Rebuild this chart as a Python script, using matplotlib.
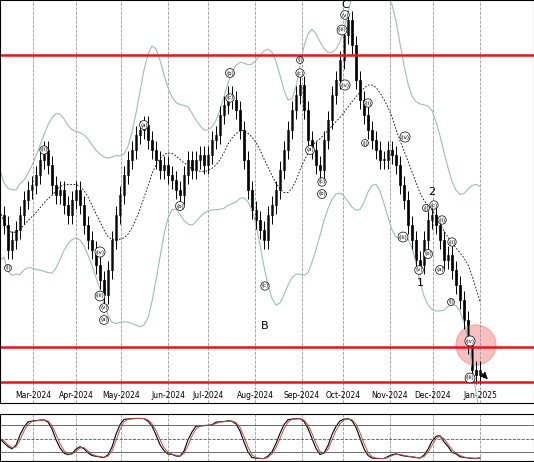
import matplotlib.pyplot as plt
from matplotlib.patches import Circle
import numpy as np
import pandas as pd

# closes (pixel-height units), one value every ~4 px
closes_y = [215, 225, 250, 240, 230, 215, 200, 190, 185, 175, 160, 150, 165, 185, 195, 190, 205, 215, 200, 190,
            205, 225, 240, 250, 265, 280, 295, 270, 240, 215, 195, 175, 160, 150, 135, 130, 125, 140, 150, 160,
            170, 165, 175, 180, 190, 195, 175, 160, 170, 160, 155, 165, 155, 140, 135, 115, 105, 95, 100, 110,
            130, 160, 190, 210, 220, 230, 240, 215, 205, 190, 170, 150, 130, 110, 95, 85, 110, 140, 150, 165,
            170, 140, 120, 95, 80, 60, 35, 20, 45, 80, 100, 115, 130, 140, 150, 160, 160, 150, 155, 165,
            185, 200, 225, 240, 260, 265, 240, 220, 215, 225, 240, 260, 255, 270, 285, 300, 320, 345, 370, 375, 370]
closes = np.array([400 - v for v in closes_y], dtype=float)
xs = np.arange(len(closes)) * 4.0

month_pos = [33, 76, 121, 168, 208, 255, 302, 343, 390, 433, 480]
month_labels = ['Mar-2024', 'Apr-2024', 'May-2024', 'Jun-2024', 'Jul-2024', 'Aug-2024',
                'Sep-2024', 'Oct-2024', 'Nov-2024', 'Dec-2024', 'Jan-2025']

red_levels_y = [55, 347, 382]

waves = [(8, 268, '(i)'), (44, 150, '(ii)'), (100, 252, '(iv)'), (100, 296, '(iii)'), (104, 308, '(v)'),
         (104, 320, '(a)'), (144, 125, '(a)'), (180, 206, '(b)'), (230, 73, '(b)'), (230, 98, '(c)'),
         (265, 286, '(c)'), (300, 60, '(i)'), (300, 73, '(c)'), (310, 150, '(a)'), (322, 182, '(c)'),
         (322, 194, '(b)'), (345, 15, '(v)'), (342, 30, '(iii)'), (345, 85, '(iv)'), (368, 103, '(ii)'),
         (365, 143, '(i)'), (405, 137, '(iv)'), (403, 237, '(iii)'), (419, 270, '(v)'), (426, 208, '(i)'),
         (434, 205, '(c)'), (442, 220, '(ii)'), (428, 254, '(b)'), (440, 270, '(a)'), (452, 242, '(ii)'),
         (451, 302, '(i)'), (470, 341, '(iv)'), (470, 378, '(iii)')]
big_labels = [(345, 5, 'C'), (265, 326, 'B'), (420, 283, '1'), (432, 192, '2')]

df = pd.DataFrame({'c': closes})
mid = df['c'].rolling(12, min_periods=1).mean()
sd = df['c'].rolling(12, min_periods=2).std().fillna(15)
sd = sd.rolling(4, min_periods=1).mean()
upper, lower = mid + 2 * sd + 15, mid - 2 * sd - 15

lo = df['c'].rolling(9, min_periods=1).min() - 8
hi = df['c'].rolling(9, min_periods=1).max() + 8
k = (100 * (df['c'] - lo) / (hi - lo)).rolling(3, min_periods=1).mean()
d = k.rolling(2, min_periods=1).mean()

fig = plt.figure(figsize=(5.34, 4.62), dpi=100)
ax = fig.add_axes([0, 1 - 403 / 462, 1, 403 / 462])
ax2 = fig.add_axes([0, 1 - 461 / 462, 1, 47 / 462])

ax.plot(xs, upper, color='#9cbfb4', lw=0.8)
ax.plot(xs, lower, color='#9cbfb4', lw=0.8)
ax.plot(xs, mid, color='black', lw=0.6, ls=(0, (2, 2)))
opens = np.r_[closes[0], closes[:-1]]
for x, o, c in zip(xs, opens, closes):
    ax.vlines(x, min(o, c) - 9, max(o, c) + 9, color='black', lw=0.7)
    col = 'black' if c < o else 'white'
    ax.bar(x, max(abs(c - o), 1), bottom=min(o, c), width=2.6, color=col, edgecolor='black', lw=0.5)

for yl in red_levels_y:
    ax.axhline(400 - yl, color='#e8141c', lw=1.8)
for xp, yp, t in waves:
    ax.text(xp, 400 - yp, t, fontsize=4, ha='center', va='center',
            bbox=dict(boxstyle='circle,pad=0.1', fc='white', ec='black', lw=0.5))
for xp, yp, t in big_labels:
    ax.text(xp, 400 - yp, t, fontsize=8, ha='center', va='center')
ax.add_patch(Circle((476, 400 - 345), 20, color='#f08080', alpha=0.5))
ax.annotate('', xy=(490, 400 - 381), xytext=(478, 400 - 370),
            arrowprops=dict(arrowstyle='-|>', ls='--', color='black', lw=0.8))

ax.set_xlim(0, 534)
ax.set_ylim(400 - 403, 400)
ax.set_xticks(month_pos)
ax.set_xticklabels(month_labels, fontsize=5.5)
ax.tick_params(axis='x', direction='in', pad=-9, length=0)
ax.set_yticks([])
ax.grid(axis='x', ls='--', color='#999999', lw=0.6)

ax2.plot(xs, k, color='black', lw=0.8)
ax2.plot(xs, d, color='#c05050', lw=0.7)
for lv in (20, 80):
    ax2.axhline(lv, color='#555555', lw=0.6)
ax2.axhline(50, color='#555555', lw=0.6, ls='--')
ax2.set_xlim(0, 534)
ax2.set_ylim(0, 105)
ax2.set_xticks(month_pos)
ax2.set_xticklabels([])
ax2.set_yticks([])
ax2.tick_params(length=0)
ax2.grid(axis='x', ls='--', color='#999999', lw=0.6)

fig.savefig('out.png', dpi=100)
